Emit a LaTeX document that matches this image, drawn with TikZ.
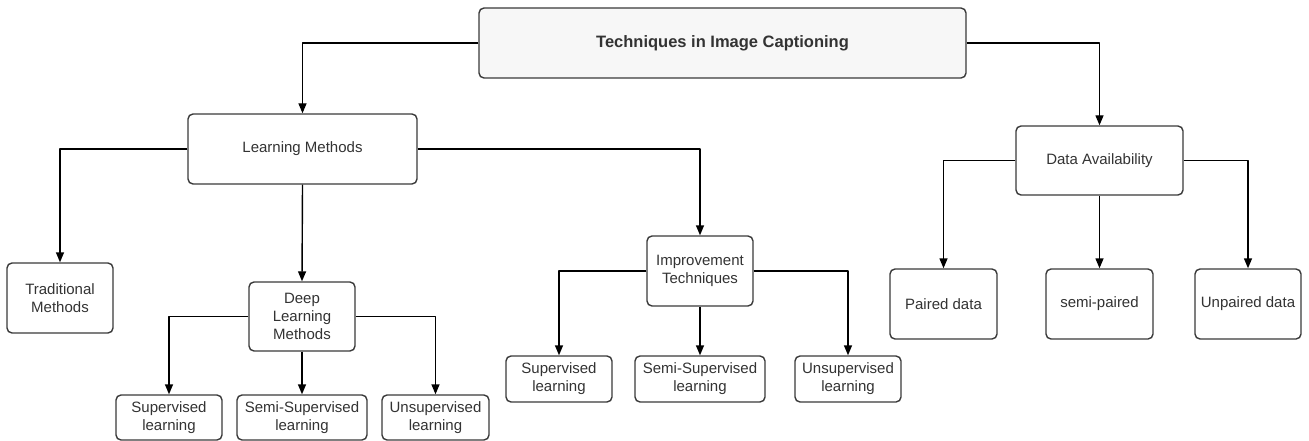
\documentclass[tikz,border=0pt]{standalone}
\usepackage{fontspec}
\setmainfont{Liberation Sans}
\usetikzlibrary{arrows.meta}
\definecolor{boxline}{HTML}{3A3A3A}
\definecolor{txt}{HTML}{333333}
\definecolor{rootfill}{HTML}{F7F7F7}
\begin{document}
\begin{tikzpicture}[x=1pt,y=-1pt,>={Triangle[length=10pt,width=8pt]}, line join=round,
	box/.style={draw=boxline, line width=1.4pt, rounded corners=5pt, fill=white, text=txt,
		align=center, inner sep=0pt, font=\fontsize{15}{18}\selectfont},
	link/.style={->, line width=1.4pt, black}]
\useasboundingbox (0,0) rectangle (1309,441);
% Gốc
\node[box, fill=rootfill, minimum width=487, minimum height=70, font=\fontsize{16.5}{19}\selectfont\bfseries] (root) at (722.5,43) {Techniques in Image Captioning};
% Tầng 1
\node[box, minimum width=229, minimum height=70] (lm) at (302.5,149) {Learning Methods};
\node[box, minimum width=167, minimum height=69] (da) at (1099.5,160.5) {Data Availability};
% Tầng 2
\node[box, minimum width=106, minimum height=70] (trad) at (60,298) {Traditional\\Methods};
\node[box, minimum width=106, minimum height=69] (dl) at (302,316.5) {Deep\\Learning\\Methods};
\node[box, minimum width=106, minimum height=70] (it) at (700,271) {Improvement\\Techniques};
\node[box, minimum width=107, minimum height=70] (pd) at (943.5,304) {Paired data};
\node[box, minimum width=107, minimum height=70] (sp) at (1099.5,304) {semi-paired};
\node[box, minimum width=106, minimum height=70] (ud) at (1248,304) {Unpaired data};
% Tầng 3
\node[box, minimum width=106, minimum height=45] (dlsup) at (169,417.5) {Supervised\\learning};
\node[box, minimum width=130, minimum height=45] (dlsemi) at (302,417.5) {Semi-Supervised\\learning};
\node[box, minimum width=107, minimum height=45] (dlunsup) at (435.5,417.5) {Unsupervised\\learning};
\node[box, minimum width=106, minimum height=46] (itsup) at (559,379) {Supervised\\learning};
\node[box, minimum width=130, minimum height=46] (itsemi) at (700,379) {Semi-Supervised\\learning};
\node[box, minimum width=106, minimum height=46] (itunsup) at (848,379) {Unsupervised\\learning};
% Mũi tên
\draw[link] (root.west) -| (lm.north);
\draw[link] (root.east) -| (da.north);
\draw[link] (lm.west) -| (trad.north);
\draw[link] (lm.south) -- (dl.north);
\draw[link] (lm.east) -| (it.north);
\draw[link] (dl.west) -| (dlsup.north);
\draw[link] (dl.south) -- (dlsemi.north);
\draw[link] (dl.east) -| (dlunsup.north);
\draw[link] (it.west) -| (itsup.north);
\draw[link] (it.south) -- (itsemi.north);
\draw[link] (it.east) -| (itunsup.north);
\draw[link] (da.west) -| (pd.north);
\draw[link] (da.south) -- (sp.north);
\draw[link] (da.east) -| (ud.north);
\end{tikzpicture}
\end{document}
